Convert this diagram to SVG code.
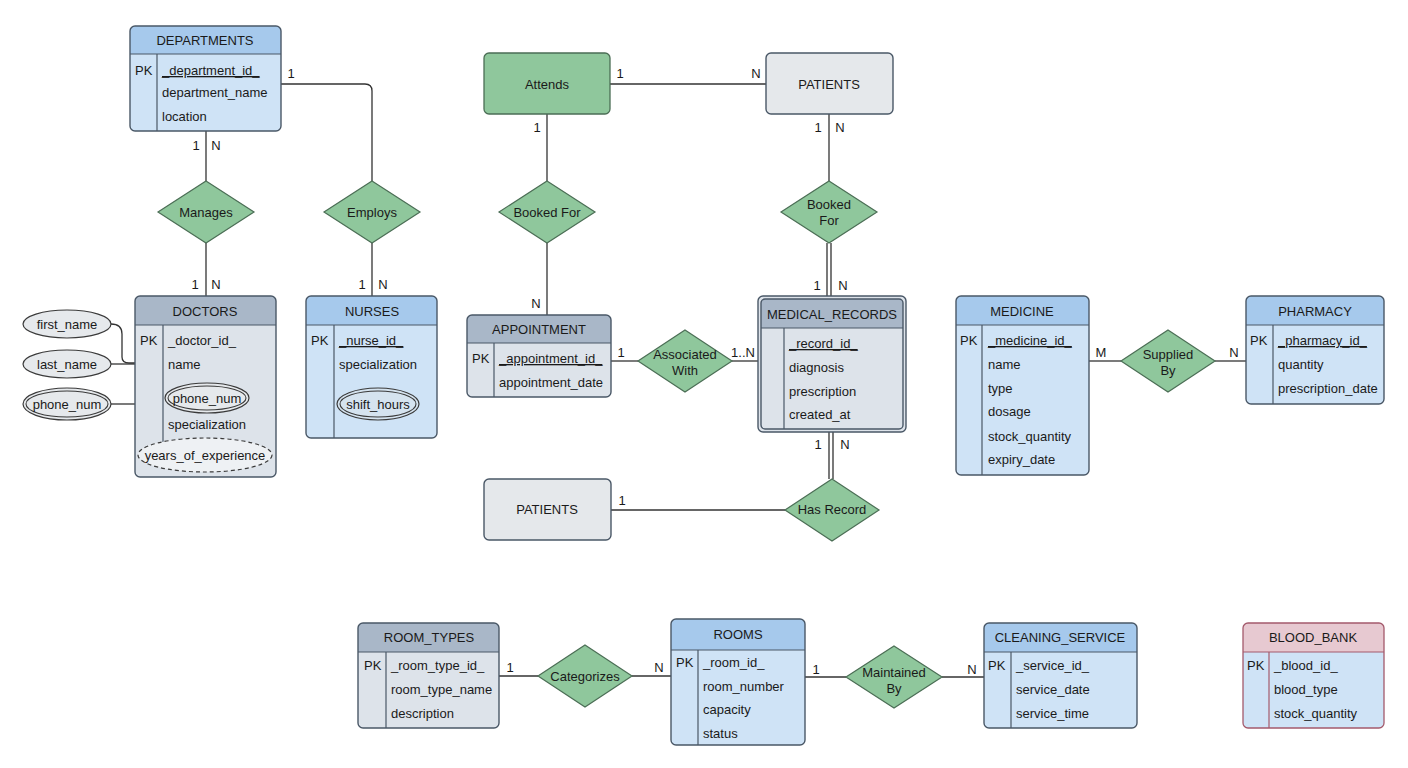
<svg xmlns="http://www.w3.org/2000/svg" width="1408" height="768" viewBox="0 0 1408 768">
<style>
text{font-family:"Liberation Sans",Arial,sans-serif;font-size:13px;fill:#1a1a1a}
.c{text-anchor:middle}
.u{text-decoration:underline}
.frame{fill:none;stroke:#4a5867;stroke-width:1.4}
.sep{stroke:#4a5867;stroke-width:1.2}
.bb{fill:#cfe3f6}.hb{fill:#a6c9ec}
.bg{fill:#dde3ea}.hg{fill:#a9b7c8}
.hp{fill:#e7c9d1}
.rel{fill:#8fc79c;stroke:#4b6e55;stroke-width:1.2}
.ent{fill:#e5e8eb;stroke:#4a5867;stroke-width:1.4}
.ln{fill:none;stroke:#333;stroke-width:1.3}
.att{fill:#e6e9ec;stroke:#3a3a3a;stroke-width:1.2}
</style>
<g id="connectors">
<path class="ln" d="M206,131 V181"/>
<path class="ln" d="M206,243 V296"/>
<path class="ln" d="M281,84 H365 Q372,84 372,91 V181"/>
<path class="ln" d="M372,243 V296"/>
<path class="ln" d="M610,84 H766"/>
<path class="ln" d="M547,114 V181"/>
<path class="ln" d="M547,243 V315"/>
<path class="ln" d="M829,114 V181"/>
<path class="ln" d="M827,243 V296 M831,243 V296"/>
<path class="ln" d="M611,361 H638"/>
<path class="ln" d="M732,361 H758"/>
<path class="ln" d="M829,432 V479 M833,432 V479"/>
<path class="ln" d="M611,510 H785"/>
<path class="ln" d="M1089,361 H1121"/>
<path class="ln" d="M1215,361 H1246"/>
<path class="ln" d="M499,676 H538"/>
<path class="ln" d="M632,676 H671"/>
<path class="ln" d="M805,677 H846"/>
<path class="ln" d="M942,677 H984"/>
<path class="ln" d="M111,324 Q122,324 122,334 V357 Q122,363 129,363 H135"/>
<path class="ln" d="M111,364 H135"/>
<path class="ln" d="M111,404 H135"/>
<text class="c" x="291" y="78">1</text>
<text class="c" x="196" y="150">1</text><text class="c" x="216" y="150">N</text>
<text class="c" x="195" y="289">1</text><text class="c" x="216" y="289">N</text>
<text class="c" x="362" y="289">1</text><text class="c" x="383" y="289">N</text>
<text class="c" x="620" y="78">1</text><text class="c" x="756" y="78">N</text>
<text class="c" x="537" y="132">1</text>
<text class="c" x="818" y="132">1</text><text class="c" x="840" y="132">N</text>
<text class="c" x="817" y="290">1</text><text class="c" x="843" y="290">N</text>
<text class="c" x="536" y="308">N</text>
<text class="c" x="621" y="357">1</text><text class="c" x="743" y="357">1..N</text>
<text class="c" x="818" y="449">1</text><text class="c" x="845" y="449">N</text>
<text class="c" x="622" y="505">1</text>
<text class="c" x="1101" y="357">M</text><text class="c" x="1234" y="357">N</text>
<text class="c" x="510" y="672">1</text><text class="c" x="659" y="672">N</text>
<text class="c" x="816" y="674">1</text><text class="c" x="972" y="674">N</text>
</g>
<g id="departments">
<rect class="bb" x="130" y="26" width="151" height="105" rx="5"/>
<path class="hb" d="M130,54 V31 Q130,26 135,26 H276 Q281,26 281,31 V54 Z"/>
<rect class="frame" x="130" y="26" width="151" height="105" rx="5"/>
<line class="sep" x1="130" y1="54" x2="281" y2="54"/><line class="sep" x1="157" y1="54" x2="157" y2="131"/>
<text class="c" x="205" y="45">DEPARTMENTS</text>
<text x="135" y="75">PK</text>
<text class="u" x="162" y="75">_department_id_</text>
<text x="162" y="97">department_name</text>
<text x="162" y="121">location</text>
</g>
<g id="doctors">
<rect class="bg" x="135" y="296" width="141" height="181" rx="5"/>
<path class="hg" d="M135,325 V301 Q135,296 140,296 H271 Q276,296 276,301 V325 Z"/>
<rect class="frame" x="135" y="296" width="141" height="181" rx="5"/>
<line class="sep" x1="135" y1="325" x2="276" y2="325"/><line class="sep" x1="163" y1="325" x2="163" y2="442"/>
<text class="c" x="205" y="316">DOCTORS</text>
<text x="140" y="345">PK</text>
<text x="168" y="345">_doctor_id_</text>
<text x="168" y="369">name</text>
<ellipse class="att" cx="207" cy="398" rx="42" ry="15"/><ellipse fill="none" stroke="#3a3a3a" stroke-width="1.1" cx="207" cy="398" rx="39" ry="12"/>
<text class="c" x="207" y="403">phone_num</text>
<text x="168" y="429">specialization</text>
<ellipse fill="#eef1f4" stroke="#3a3a3a" stroke-width="1.2" stroke-dasharray="4,3" cx="205" cy="455" rx="67" ry="17"/>
<text class="c" x="205" y="460">years_of_experience</text>
</g>
<g id="attr-first-name"><ellipse class="att" cx="67" cy="324" rx="44" ry="14"/><text class="c" x="67" y="329">first_name</text></g>
<g id="attr-last-name"><ellipse class="att" cx="67" cy="364" rx="44" ry="14"/><text class="c" x="67" y="369">last_name</text></g>
<g id="attr-phone-num"><ellipse class="att" cx="67" cy="404" rx="44" ry="16"/><ellipse fill="none" stroke="#3a3a3a" stroke-width="1.1" cx="67" cy="404" rx="41" ry="13"/><text class="c" x="67" y="409">phone_num</text></g>
<g id="nurses">
<rect class="bb" x="306" y="296" width="131" height="142" rx="5"/>
<path class="hb" d="M306,325 V301 Q306,296 311,296 H432 Q437,296 437,301 V325 Z"/>
<rect class="frame" x="306" y="296" width="131" height="142" rx="5"/>
<line class="sep" x1="306" y1="325" x2="437" y2="325"/><line class="sep" x1="334" y1="325" x2="334" y2="438"/>
<text class="c" x="372" y="316">NURSES</text>
<text x="311" y="345">PK</text>
<text class="u" x="339" y="345">_nurse_id_</text>
<text x="339" y="369">specialization</text>
<ellipse fill="#d5e3ef" stroke="#3a3a3a" stroke-width="1.2" cx="378" cy="404" rx="41" ry="16"/><ellipse fill="none" stroke="#3a3a3a" stroke-width="1.1" cx="378" cy="404" rx="38" ry="13"/>
<text class="c" x="378" y="409">shift_hours</text>
</g>
<g id="rel-manages"><polygon class="rel" points="206,181 254,212 206,243 158,212"/><text class="c" x="206" y="217">Manages</text></g>
<g id="rel-employs"><polygon class="rel" points="372,181 420,212 372,243 324,212"/><text class="c" x="372" y="217">Employs</text></g>
<g id="attends"><rect x="484" y="53" width="126" height="61" rx="5" fill="#8fc79c" stroke="#4b6e55" stroke-width="1.3"/><text class="c" x="547" y="89">Attends</text></g>
<g id="patients-top"><rect class="ent" x="766" y="53" width="127" height="61" rx="5"/><text class="c" x="829" y="89">PATIENTS</text></g>
<g id="rel-booked-for-1"><polygon class="rel" points="547,181 595,212 547,243 499,212"/><text class="c" x="547" y="217">Booked For</text></g>
<g id="rel-booked-for-2"><polygon class="rel" points="829,181 877,212 829,243 781,212"/><text class="c" x="829" y="209">Booked</text><text class="c" x="829" y="225">For</text></g>
<g id="appointment">
<rect class="bg" x="467" y="315" width="144" height="82" rx="5"/>
<path class="hg" d="M467,343 V320 Q467,315 472,315 H606 Q611,315 611,320 V343 Z"/>
<rect class="frame" x="467" y="315" width="144" height="82" rx="5"/>
<line class="sep" x1="467" y1="343" x2="611" y2="343"/><line class="sep" x1="494" y1="343" x2="494" y2="397"/>
<text class="c" x="539" y="334">APPOINTMENT</text>
<text x="472" y="363">PK</text>
<text class="u" x="499" y="363">_appointment_id_</text>
<text x="499" y="387">appointment_date</text>
</g>
<g id="rel-associated-with"><polygon class="rel" points="685,330 732,361 685,392 638,361"/><text class="c" x="685" y="359">Associated</text><text class="c" x="685" y="375">With</text></g>
<g id="medical-records">
<rect class="bg" x="758" y="296" width="148" height="136" rx="5"/>
<path class="hg" d="M761,328 V303 Q761,299 765,299 H899 Q903,299 903,303 V328 Z"/>
<rect class="frame" x="758" y="296" width="148" height="136" rx="5"/>
<rect class="frame" x="761" y="299" width="142" height="130" rx="4"/>
<line class="sep" x1="761" y1="328" x2="903" y2="328"/><line class="sep" x1="784" y1="328" x2="784" y2="429"/>
<text class="c" x="832" y="319">MEDICAL_RECORDS</text>
<text class="u" x="789" y="348">_record_id_</text>
<text x="789" y="372">diagnosis</text>
<text x="789" y="396">prescription</text>
<text x="789" y="419">created_at</text>
</g>
<g id="rel-has-record"><polygon class="rel" points="832,479 879,510 832,541 785,510"/><text class="c" x="832" y="514">Has Record</text></g>
<g id="patients-bottom"><rect class="ent" x="484" y="479" width="127" height="61" rx="5"/><text class="c" x="547" y="514">PATIENTS</text></g>
<g id="medicine">
<rect class="bb" x="956" y="296" width="133" height="179" rx="5"/>
<path class="hb" d="M956,325 V301 Q956,296 961,296 H1084 Q1089,296 1089,301 V325 Z"/>
<rect class="frame" x="956" y="296" width="133" height="179" rx="5"/>
<line class="sep" x1="956" y1="325" x2="1089" y2="325"/><line class="sep" x1="982" y1="325" x2="982" y2="475"/>
<text class="c" x="1022" y="316">MEDICINE</text>
<text x="960" y="345">PK</text>
<text class="u" x="988" y="345">_medicine_id_</text>
<text x="988" y="369">name</text>
<text x="988" y="393">type</text>
<text x="988" y="416">dosage</text>
<text x="988" y="441">stock_quantity</text>
<text x="988" y="464">expiry_date</text>
</g>
<g id="rel-supplied-by"><polygon class="rel" points="1168,330 1215,361 1168,392 1121,361"/><text class="c" x="1168" y="359">Supplied</text><text class="c" x="1168" y="375">By</text></g>
<g id="pharmacy">
<rect class="bb" x="1246" y="296" width="138" height="108" rx="5"/>
<path class="hb" d="M1246,325 V301 Q1246,296 1251,296 H1379 Q1384,296 1384,301 V325 Z"/>
<rect class="frame" x="1246" y="296" width="138" height="108" rx="5"/>
<line class="sep" x1="1246" y1="325" x2="1384" y2="325"/><line class="sep" x1="1273" y1="325" x2="1273" y2="404"/>
<text class="c" x="1315" y="316">PHARMACY</text>
<text x="1250" y="345">PK</text>
<text class="u" x="1278" y="345">_pharmacy_id_</text>
<text x="1278" y="369">quantity</text>
<text x="1278" y="393">prescription_date</text>
</g>
<g id="room-types">
<rect class="bg" x="358" y="623" width="141" height="105" rx="5"/>
<path class="hg" d="M358,652 V628 Q358,623 363,623 H494 Q499,623 499,628 V652 Z"/>
<rect class="frame" x="358" y="623" width="141" height="105" rx="5"/>
<line class="sep" x1="358" y1="652" x2="499" y2="652"/><line class="sep" x1="386" y1="652" x2="386" y2="728"/>
<text class="c" x="429" y="642">ROOM_TYPES</text>
<text x="364" y="670">PK</text>
<text x="391" y="670">_room_type_id_</text>
<text x="391" y="694">room_type_name</text>
<text x="391" y="718">description</text>
</g>
<g id="rel-categorizes"><polygon class="rel" points="585,645 632,676 585,707 538,676"/><text class="c" x="585" y="681">Categorizes</text></g>
<g id="rooms">
<rect class="bb" x="671" y="619" width="134" height="126" rx="5"/>
<path class="hb" d="M671,650 V624 Q671,619 676,619 H800 Q805,619 805,624 V650 Z"/>
<rect class="frame" x="671" y="619" width="134" height="126" rx="5"/>
<line class="sep" x1="671" y1="650" x2="805" y2="650"/><line class="sep" x1="698" y1="650" x2="698" y2="745"/>
<text class="c" x="738" y="639">ROOMS</text>
<text x="676" y="667">PK</text>
<text x="703" y="667">_room_id_</text>
<text x="703" y="691">room_number</text>
<text x="703" y="714">capacity</text>
<text x="703" y="738">status</text>
</g>
<g id="rel-maintained-by"><polygon class="rel" points="894,646 942,677 894,708 846,677"/><text class="c" x="894" y="677">Maintained</text><text class="c" x="894" y="693">By</text></g>
<g id="cleaning-service">
<rect class="bb" x="984" y="623" width="153" height="105" rx="5"/>
<path class="hb" d="M984,652 V628 Q984,623 989,623 H1132 Q1137,623 1137,628 V652 Z"/>
<rect class="frame" x="984" y="623" width="153" height="105" rx="5"/>
<line class="sep" x1="984" y1="652" x2="1137" y2="652"/><line class="sep" x1="1011" y1="652" x2="1011" y2="728"/>
<text class="c" x="1060" y="642">CLEANING_SERVICE</text>
<text x="988" y="670">PK</text>
<text x="1016" y="670">_service_id_</text>
<text x="1016" y="694">service_date</text>
<text x="1016" y="718">service_time</text>
</g>
<g id="blood-bank">
<rect class="bb" x="1243" y="623" width="141" height="105" rx="5"/>
<path class="hp" d="M1243,652 V628 Q1243,623 1248,623 H1379 Q1384,623 1384,628 V652 Z"/>
<rect fill="none" stroke="#a45a6c" stroke-width="1.3" x="1243" y="623" width="141" height="105" rx="5"/>
<line stroke="#a45a6c" stroke-width="1.2" x1="1243" y1="652" x2="1384" y2="652"/><line stroke="#a45a6c" stroke-width="1.2" x1="1269" y1="652" x2="1269" y2="728"/>
<text class="c" x="1313" y="642">BLOOD_BANK</text>
<text x="1247" y="670">PK</text>
<text x="1274" y="670">_blood_id_</text>
<text x="1274" y="694">blood_type</text>
<text x="1274" y="718">stock_quantity</text>
</g>
</svg>
